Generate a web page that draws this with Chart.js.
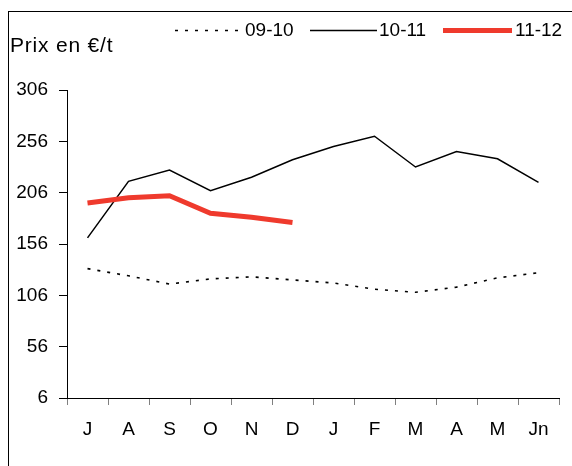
<!DOCTYPE html>
<html>
<head>
<meta charset="utf-8">
<script src="https://cdn.jsdelivr.net/npm/chart.js@4"></script>
<style>
  body { margin: 0; background: #fff; }
</style>
</head>
<body>
<canvas id="prix-chart" width="572" height="466"></canvas>
<script>
// months of the campaign (July -> June)
const months = ['J', 'A', 'S', 'O', 'N', 'D', 'J', 'F', 'M', 'A', 'M', 'Jn'];
const seriesNames = ['09-10', '10-11', '11-12'];
const prix0910 = [132, 125, 117, 122, 124, 121, 118, 112, 109, 114, 123, 128];
const prix1011 = [162, 217, 228, 208, 221, 238, 251, 261, 231, 246, 239, 216];
const prix1112 = [196, 201, 203, 186, 182, 177];
const yTicks = [6, 56, 106, 156, 206, 256, 306];

const FONT = '"Liberation Sans", Arial, sans-serif';
const RED = '#ef3a2d';

// frame, y title and legend drawn by hand so they sit where the original puts them
const extras = {
  id: 'extras',
  afterDraw(chart) {
    const ctx = chart.ctx;
    ctx.save();
    ctx.strokeStyle = '#000';
    ctx.lineWidth = 1;
    ctx.strokeRect(8.5, 11.5, 700, 600);

    ctx.fillStyle = '#000';
    ctx.textBaseline = 'middle';
    ctx.textAlign = 'left';
    ctx.font = '21px ' + FONT;
    if ('letterSpacing' in ctx) ctx.letterSpacing = '0.8px';
    ctx.fillText('Prix en €/t', 10, 46);
    if ('letterSpacing' in ctx) ctx.letterSpacing = '0px';

    ctx.font = '19px ' + FONT;
    const items = [
      { x1: 175, x2: 243, dash: [3, 7], width: 1.5, color: '#000', tx: 245 },
      { x1: 310, x2: 377, dash: [], width: 1.5, color: '#000', tx: 379 },
      { x1: 443, x2: 512, dash: [], width: 5, color: RED, tx: 515 }
    ];
    items.forEach((it, i) => {
      ctx.beginPath();
      ctx.setLineDash(it.dash);
      ctx.lineWidth = it.width;
      ctx.strokeStyle = it.color;
      ctx.moveTo(it.x1, 30.5);
      ctx.lineTo(it.x2, 30.5);
      ctx.stroke();
      ctx.setLineDash([]);
      ctx.fillText(seriesNames[i], it.tx, 31);
    });
    ctx.restore();
  }
};

new Chart(document.getElementById('prix-chart'), {
  type: 'line',
  data: {
    labels: months,
    datasets: [
      {
        label: seriesNames[0],
        data: prix0910,
        borderColor: '#000',
        borderWidth: 1.6,
        borderDash: [3, 7],
        pointRadius: 0,
        tension: 0,
        order: 2
      },
      {
        label: seriesNames[1],
        data: prix1011,
        borderColor: '#000',
        borderWidth: 1.5,
        pointRadius: 0,
        tension: 0,
        order: 1
      },
      {
        label: seriesNames[2],
        data: prix1112,
        borderColor: RED,
        borderWidth: 5,
        pointRadius: 0,
        tension: 0,
        order: 0
      }
    ]
  },
  options: {
    responsive: false,
    animation: false,
    layout: { padding: { top: 90, right: 13, left: 0, bottom: 0 } },
    plugins: {
      legend: { display: false },
      title: { display: false },
      tooltip: { enabled: false }
    },
    scales: {
      x: {
        offset: true,
        grid: { drawOnChartArea: false, offset: true, tickLength: 7, color: '#000', tickColor: '#808080' },
        border: { color: '#000', width: 1 },
        ticks: { color: '#000', font: { family: FONT, size: 19 }, padding: 13, maxRotation: 0, autoSkip: false },
        afterFit: s => { s.height = 68; }
      },
      y: {
        min: 6,
        max: 306,
        afterBuildTicks: s => { s.ticks = yTicks.map(v => ({ value: v })); },
        grid: { drawOnChartArea: false, tickLength: 8, color: '#000', tickColor: '#000' },
        border: { color: '#000', width: 1 },
        ticks: { color: '#000', font: { family: FONT, size: 19 }, padding: 11 },
        afterFit: s => { s.width = 67; }
      }
    }
  },
  plugins: [extras]
});
</script>
</body>
</html>
